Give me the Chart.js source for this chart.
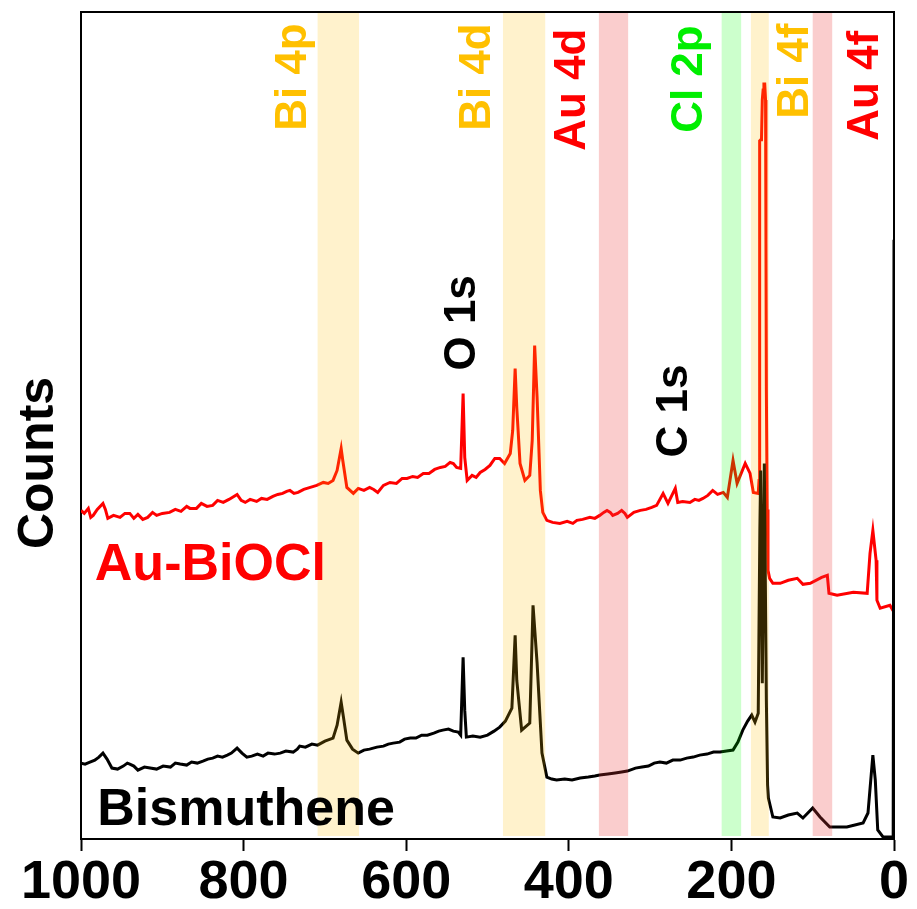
<!DOCTYPE html>
<html>
<head>
<meta charset="utf-8">
<script src="https://cdn.jsdelivr.net/npm/chart.js@4.4.1/dist/chart.umd.min.js"></script>
<style>
  body { margin: 0; background: #fff; }
  canvas { display: block; }
</style>
</head>
<body>
<canvas id="xps" width="917" height="909"></canvas>
<script>
// binding energy (eV) and counts (a.u.)
const auEV = [1000, 996, 991, 988, 985, 980, 973, 970, 967, 960,
  952, 946, 940, 935, 930, 924, 918, 912, 907, 900,
  891, 884, 877, 870, 866, 858, 852, 845, 838, 832,
  825, 818, 812, 808, 803, 798, 792, 784, 778, 771,
  764, 758, 752, 747, 743, 738, 733, 726, 718, 710,
  702, 696, 690, 685, 680, 678, 673, 665, 659, 652,
  645, 640, 635, 628, 620, 612, 605, 599, 592, 586,
  579, 572, 565, 558, 552, 546, 542, 538, 533, 530,
  528, 525, 519, 514, 509, 503, 497, 491, 485, 479,
  472, 469, 466, 464, 460, 454, 448, 445, 442, 439,
  435, 432, 427, 420, 411, 402, 395, 390, 383, 374,
  368, 362, 357, 353, 349, 346, 340, 335, 331, 328,
  320, 312, 305, 298, 292, 284, 278, 269, 266, 260,
  251, 245, 240, 235, 229, 223, 217, 210, 205, 198,
  193, 183, 177, 173, 167, 166, 165.5, 165, 164, 163,
  162, 161, 160, 159, 158, 157.5, 157, 156, 155, 153,
  149, 140, 130, 119, 112, 103, 89, 82, 80, 70,
  50, 33, 29.5, 26, 22, 21, 17, 5, 0]
const auCounts = [329, 326, 331, 322, 324, 330, 336, 330, 321, 324,
  322, 326, 326, 321, 325, 320, 322, 327, 324, 326,
  327, 330, 328, 333, 331, 331, 336, 333, 334, 339,
  337, 340, 343, 345, 339, 337, 340, 338, 341, 340,
  343, 345, 346, 348, 349, 346, 347, 350, 352, 354,
  357, 356, 359, 369, 391, 379, 352, 346, 351, 349,
  352, 350, 347, 354, 357, 356, 361, 361, 363, 362,
  366, 366, 370, 372, 373, 377, 376, 372, 371, 446,
  382, 359, 364, 362, 367, 370, 374, 381, 381, 376,
  386, 409, 471, 432, 376, 359, 364, 399, 494, 442,
  349, 327, 319, 317, 316, 318, 316, 319, 320, 322,
  321, 324, 327, 329, 327, 324, 326, 329, 326, 322,
  327, 329, 330, 332, 334, 346, 336, 351, 337, 338,
  337, 340, 339, 341, 344, 349, 345, 347, 342, 379,
  356, 376, 366, 347, 346, 359, 600, 699, 700, 700,
  740, 750, 756, 756, 740, 600, 450, 330, 269, 261,
  256, 256, 259, 261, 255, 256, 262, 264, 246, 244,
  247, 246, 286, 309, 279, 239, 231, 234, 227]

const biEV = [1000, 995, 989, 983, 978, 973, 968, 962, 955, 948,
  943, 940, 935, 930, 922, 915, 907, 899, 890, 884,
  878, 870, 864, 857, 850, 844, 838, 832, 826, 820,
  815, 808, 802, 796, 790, 783, 776, 770, 762, 755,
  748, 739, 734, 731, 724, 716, 709, 700, 690, 685,
  680, 677, 673, 666, 659, 652, 645, 636, 628, 622,
  616, 608, 602, 595, 588, 581, 574, 566, 560, 555,
  548, 542, 536, 533, 530, 528, 526, 518, 509, 500,
  492, 485, 478, 470, 466, 464, 458, 448, 444, 439,
  433, 427, 421, 415, 405, 396, 386, 376, 368, 362,
  352, 343, 335, 328, 318, 310, 302, 295, 288, 280,
  272, 263, 255, 247, 239, 230, 222, 214, 206, 198,
  192, 186, 180, 175, 171, 167, 165, 164, 162, 159.5,
  157, 155.5, 154.5, 149, 140, 130, 119, 112, 100, 91,
  79, 58, 38, 32, 26, 23, 20, 13.5, 1, 0]
const biCounts = [76, 75, 77, 79, 82, 86, 80, 71, 70, 73,
  76, 75, 73, 69, 72, 71, 70, 73, 72, 76,
  75, 74, 77, 76, 78, 80, 81, 83, 82, 84,
  86, 91, 86, 82, 83, 85, 83, 86, 85, 86,
  88, 87, 90, 93, 92, 95, 94, 98, 101, 114,
  137, 121, 99, 90, 86, 89, 90, 92, 93, 95,
  96, 97, 100, 101, 101, 104, 104, 106, 108, 109,
  110, 108, 107, 104, 182, 129, 102, 103, 102, 104,
  108, 112, 118, 131, 204, 159, 109, 116, 234, 176,
  86, 62, 60, 59, 60, 59, 61, 62, 63, 64,
  65, 66, 67, 68, 71, 72, 73, 76, 77, 76,
  79, 79, 81, 82, 84, 85, 87, 87, 88, 89,
  97, 109, 118, 124, 117, 126, 309, 369, 156, 376,
  139, 54, 41, 22, 21, 24, 26, 21, 31, 22,
  12, 12, 16, 26, 84, 59, 9, 2, 2, 600]

// highlighted regions (eV)
const bandNames = ['Bi 4p', 'Bi 4d', 'Au 4d', 'Cl 2p', 'Bi 4f', 'Au 4f']
const bandHigh = [709, 481, 363, 212, 176, 100]
const bandLow = [658, 429, 327, 188, 154, 76]
const bandColors = ['rgba(255,192,0,0.2)', 'rgba(255,192,0,0.2)', 'rgba(235,55,55,0.25)',
  'rgba(0,255,0,0.2)', 'rgba(255,192,0,0.2)', 'rgba(235,55,55,0.25)']

// peak labels: text, anchor energy, anchor height
const peakNames = ['Bi 4p', 'Bi 4d', 'Au 4d', 'Cl 2p', 'Bi 4f', 'Au 4f', 'O 1s', 'C 1s']
const peakEV = [723, 497, 380, 236, 106, 20, 515, 255]
const peakY = [709, 709, 689, 707, 721, 699, 469, 382]
const peakColors = ['#ffc000', '#ffc000', '#ff0000', '#00ee00', '#ffc000', '#ff0000', '#000', '#000']

const sampleNames = ['Au-BiOCl', 'Bismuthene']
const sampleEV = [983, 980]
const sampleY = [259, 14]
const sampleColors = ['#ff0000', '#000']

const xTicks = [1000, 800, 600, 400, 200, 0]

const toXY = (xs, ys) => xs.map((v, i) => ({x: v, y: ys[i]}))

const overlay = {
  id: 'overlay',
  afterDatasetsDraw(chart) {
    const {ctx, chartArea: a, scales: {x, y}} = chart
    ctx.save()
    bandHigh.forEach((hi, i) => {
      const x1 = x.getPixelForValue(hi), x2 = x.getPixelForValue(bandLow[i])
      ctx.fillStyle = bandColors[i]
      ctx.fillRect(x1, a.top, x2 - x1, a.bottom - a.top - 3)
    })
    // rest of the frame
    ctx.strokeStyle = '#000'
    ctx.lineWidth = 2
    ctx.beginPath()
    ctx.moveTo(a.left, a.top)
    ctx.lineTo(a.right, a.top)
    ctx.lineTo(a.right, a.bottom)
    ctx.stroke()

    ctx.textAlign = 'left'
    ctx.textBaseline = 'alphabetic'
    ctx.font = 'bold 44px "Liberation Sans", Arial, sans-serif'
    peakNames.forEach((t, i) => {
      ctx.save()
      ctx.translate(x.getPixelForValue(peakEV[i]), y.getPixelForValue(peakY[i]))
      ctx.rotate(-Math.PI / 2)
      ctx.fillStyle = peakColors[i]
      ctx.fillText(t, 0, 0)
      ctx.restore()
    })
    ctx.font = 'bold 52px "Liberation Sans", Arial, sans-serif'
    sampleNames.forEach((t, i) => {
      ctx.fillStyle = sampleColors[i]
      ctx.fillText(t, x.getPixelForValue(sampleEV[i]), y.getPixelForValue(sampleY[i]))
    })
    // y title
    ctx.save()
    ctx.translate(53, 463)
    ctx.rotate(-Math.PI / 2)
    ctx.textAlign = 'center'
    ctx.fillStyle = '#000'
    ctx.font = 'bold 50px "Liberation Sans", Arial, sans-serif'
    ctx.fillText('Counts', 0, 0)
    ctx.restore()
    ctx.restore()
  }
}

new Chart('xps', {
  type: 'line',
  data: {
    datasets: [{
      data: toXY(biEV, biCounts),
      borderColor: '#000',
      borderWidth: 3,
      pointRadius: 0,
      tension: 0
    }, {
      data: toXY(auEV, auCounts),
      borderColor: '#ff0000',
      borderWidth: 3,
      pointRadius: 0,
      tension: 0
    }]
  },
  options: {
    responsive: false,
    animation: false,
    events: [],
    layout: {padding: {top: 12, right: 23, left: 0, bottom: 0}},
    plugins: {legend: {display: false}, tooltip: {enabled: false}},
    scales: {
      x: {
        type: 'linear',
        reverse: true,
        min: 0,
        max: 1000,
        afterBuildTicks: (s) => { s.ticks = xTicks.map(v => ({value: v})) },
        afterFit: (s) => { s.height = 70 },
        grid: {display: true, drawOnChartArea: false, tickLength: 12, tickWidth: 2, tickColor: '#000'},
        border: {display: true, color: '#000', width: 2},
        ticks: {
          color: '#000',
          padding: 0,
          maxRotation: 0,
          callback: (v) => String(v),
          font: {family: '"Liberation Sans", Arial, sans-serif', weight: 'bold', size: 54}
        }
      },
      y: {
        min: 0,
        max: 828,
        afterFit: (s) => { s.width = 81 },
        grid: {display: false},
        border: {display: true, color: '#000', width: 2},
        ticks: {display: false}
      }
    }
  },
  plugins: [overlay]
})
</script>
</body>
</html>
